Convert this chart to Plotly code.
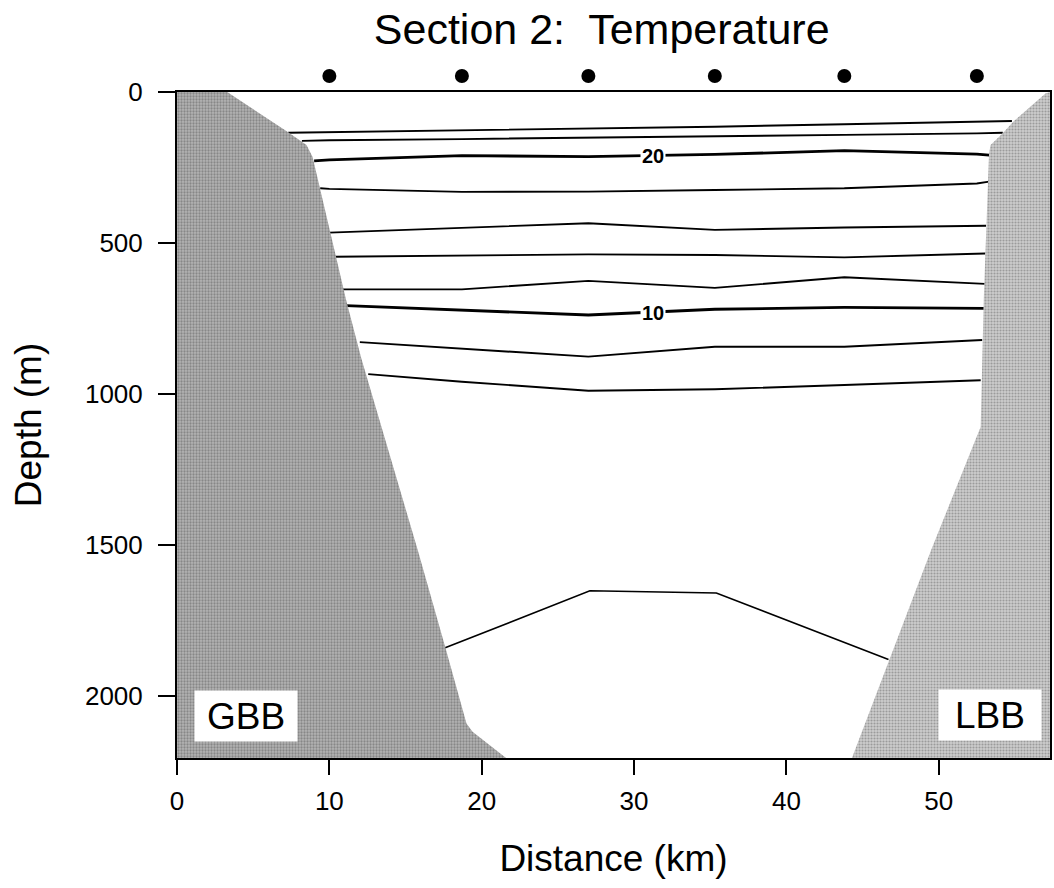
import plotly.graph_objects as go

# ---- Section geometry (distance in km, depth in m) ----
x_max_km = 57.3
depth_max_m = 2207

stations_km = [10.0, 18.7, 27.0, 35.3, 43.8, 52.5]

# Bank topography (Great Bahama Bank on the left, Little Bahama Bank on the right)
gbb_km = [0, 3.3, 7.2, 8.5, 8.9, 11.1, 12.1, 15.8, 17.6, 19.0, 19.4, 21.6, 0]
gbb_depth = [0, 0, 130, 176, 215, 689, 883, 1518, 1838, 2093, 2120, 2207, 2207]

lbb_km = [57.3, 57.0, 54.9, 54.2, 53.4, 53.3, 52.95, 52.75, 52.4, 49.5, 44.3, 57.3]
lbb_depth = [0, 5, 98, 137, 176, 203, 690, 1110, 1153, 1518, 2207, 2207]

# Isotherms, top to bottom
iso1_km = [7.3, 10.0, 18.7, 27.0, 35.3, 43.8, 52.5, 54.8]
iso1_depth = [135, 133, 128, 120, 115, 107, 99, 96]

iso2_km = [8.2, 10.0, 18.7, 27.0, 35.3, 43.8, 52.5, 54.2]
iso2_depth = [162, 160, 156, 152, 148, 142, 137, 135]

iso3_km = [9.0, 10.0, 18.7, 27.0, 35.3, 43.8, 52.5, 53.3]   # 20 degC
iso3_depth = [228, 225, 211, 214, 207, 194, 206, 209]

iso4_km = [9.4, 10.0, 18.7, 27.0, 35.3, 43.8, 52.5, 53.3]
iso4_depth = [319, 321, 331, 330, 325, 319, 303, 297]

iso5_km = [10.0, 18.7, 27.0, 35.3, 43.8, 53.1]
iso5_depth = [466, 450, 435, 457, 449, 443]

iso6_km = [10.3, 18.7, 27.0, 35.3, 43.8, 53.05]
iso6_depth = [546, 542, 538, 540, 548, 535]

iso7_km = [10.9, 18.7, 27.0, 35.3, 43.8, 53.05]
iso7_depth = [654, 654, 626, 649, 614, 636]

iso8_km = [11.1, 18.7, 27.0, 35.3, 43.8, 52.96]   # 10 degC
iso8_depth = [708, 723, 739, 720, 714, 717]

iso9_km = [12.0, 18.7, 27.0, 35.3, 43.8, 52.85]
iso9_depth = [829, 850, 877, 844, 844, 822]

iso10_km = [12.55, 18.7, 27.0, 35.3, 43.8, 52.75]
iso10_depth = [935, 960, 990, 985, 971, 955]

iso11_km = [17.6, 27.1, 35.4, 46.7]
iso11_depth = [1842, 1653, 1660, 1881]

isotherms = [
    (iso1_km, iso1_depth, 1.9),
    (iso2_km, iso2_depth, 1.9),
    (iso3_km, iso3_depth, 2.8),
    (iso4_km, iso4_depth, 1.9),
    (iso5_km, iso5_depth, 1.9),
    (iso6_km, iso6_depth, 1.9),
    (iso7_km, iso7_depth, 1.9),
    (iso8_km, iso8_depth, 2.8),
    (iso9_km, iso9_depth, 1.9),
    (iso10_km, iso10_depth, 1.9),
    (iso11_km, iso11_depth, 1.6),
]

contour_labels = ["20", "10"]
contour_label_km = [31.25, 31.25]
contour_label_depth = [212, 733]

bank_names = ["GBB", "LBB"]
bank_label_km = [4.56, 53.35]
bank_label_depth = [2069, 2064]

x_ticks = [0, 10, 20, 30, 40, 50]
y_ticks = [0, 500, 1000, 1500, 2000]

FONT = "Liberation Sans, Arial, Helvetica, sans-serif"

# Layout: section panel below a thin strip that carries the station dots
MARGIN_T, MARGIN_B, HEIGHT = 60, 130, 888
panel_top = 92
section_top_frac = (HEIGHT - MARGIN_B - panel_top) / (HEIGHT - MARGIN_T - MARGIN_B)

fig = go.Figure()

for xs, zs, w in isotherms:
    fig.add_trace(go.Scatter(x=xs, y=zs, mode="lines",
                             line=dict(color="black", width=w),
                             hoverinfo="skip", showlegend=False))

# Shaded bank slopes (halftone stipple)
fig.add_trace(go.Scatter(
    x=gbb_km, y=gbb_depth, mode="lines", fill="toself",
    line=dict(color="rgba(0,0,0,0)", width=0),
    fillcolor="#8f8f8f",
    fillpattern=dict(shape=".", fgcolor="#5a5a5a", bgcolor="#b4b4b4",
                     size=3, solidity=0.45),
    hoverinfo="skip", showlegend=False))
fig.add_trace(go.Scatter(
    x=lbb_km, y=lbb_depth, mode="lines", fill="toself",
    line=dict(color="rgba(0,0,0,0)", width=0),
    fillcolor="#b0b0b0",
    fillpattern=dict(shape=".", fgcolor="#6a6a6a", bgcolor="#cccccc",
                     size=3, solidity=0.4),
    hoverinfo="skip", showlegend=False))

# Station positions above the section
fig.add_trace(go.Scatter(
    x=stations_km, y=[0.5] * len(stations_km), yaxis="y2",
    mode="markers", marker=dict(color="black", size=14),
    cliponaxis=False, hoverinfo="skip", showlegend=False))

annotations = []
for txt, xk, zd in zip(contour_labels, contour_label_km, contour_label_depth):
    annotations.append(dict(
        x=xk, y=zd, xref="x", yref="y", text="<b>" + txt + "</b>",
        showarrow=False, font=dict(family=FONT, size=20, color="black"),
        bgcolor="white", borderpad=1))

for txt, xk, zd in zip(bank_names, bank_label_km, bank_label_depth):
    annotations.append(dict(
        x=xk, y=zd, xref="x", yref="y", text=txt, showarrow=False,
        font=dict(family=FONT, size=37, color="black"),
        bgcolor="white", width=98, height=46, borderpad=2))

fig.update_layout(
    width=1054, height=HEIGHT,
    margin=dict(l=177, r=2, t=MARGIN_T, b=MARGIN_B),
    paper_bgcolor="white", plot_bgcolor="white",
    font=dict(family=FONT, color="black"),
    title=dict(text="Section 2:&nbsp; Temperature",
               font=dict(family=FONT, size=43, color="black"),
               x=601.7 / 1054, xref="container", xanchor="center",
               y=1 - 29 / 888, yref="container", yanchor="middle"),
    annotations=annotations,
    xaxis=dict(
        range=[0, x_max_km], tickvals=x_ticks, ticks="outside", ticklen=15,
        tickwidth=2, tickcolor="black", showline=True, linewidth=2,
        linecolor="black", mirror=True, showgrid=False, zeroline=False,
        tickfont=dict(family=FONT, size=26, color="black"),
        ticklabelstandoff=4,
        title=dict(text="Distance (km)", font=dict(family=FONT, size=37),
                   standoff=30)),
    yaxis=dict(
        domain=[0, section_top_frac],
        range=[depth_max_m, 0], tickvals=y_ticks, ticks="outside", ticklen=17,
        tickwidth=2, tickcolor="black", showline=True, linewidth=2,
        linecolor="black", mirror=True, showgrid=False, zeroline=False,
        tickfont=dict(family=FONT, size=26, color="black"),
        ticklabelstandoff=10,
        title=dict(text="Depth (m)", font=dict(family=FONT, size=37),
                   standoff=32)),
    yaxis2=dict(domain=[section_top_frac, 1], range=[0, 1], anchor="x",
                visible=False, fixedrange=True),
)

fig.write_html("out.html")
